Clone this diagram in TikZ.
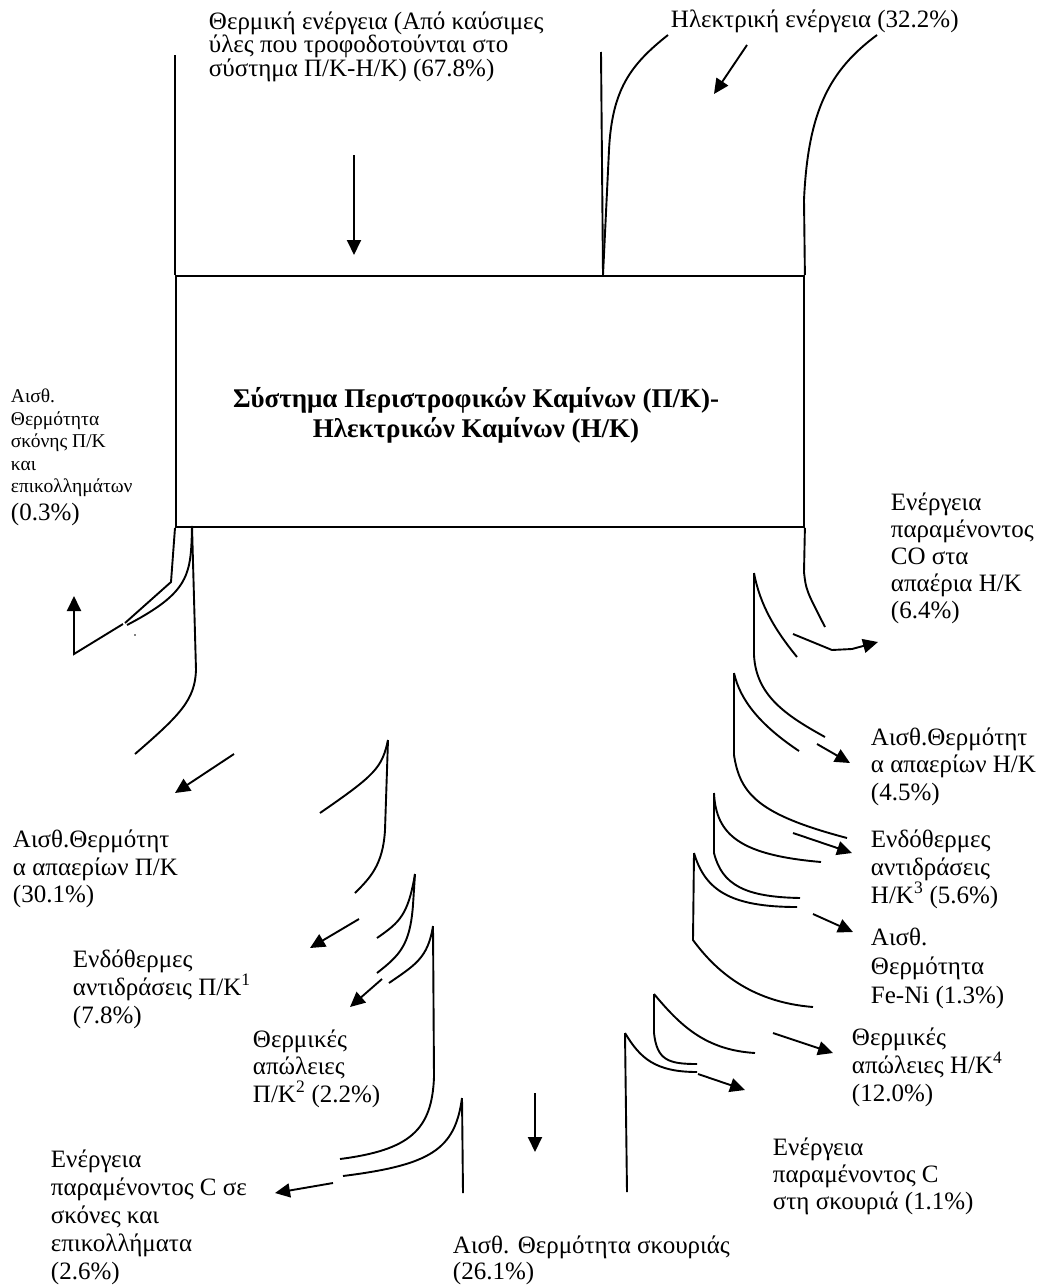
\documentclass[tikz,border=0pt]{standalone}
\usepackage{fontspec}
\setmainfont{Liberation Serif}
\usetikzlibrary{arrows.meta}
\begin{document}
\begin{tikzpicture}[x=1pt,y=-1pt,line width=1.9pt,
  arr/.style={-{Triangle[length=15pt,width=14pt]}},
  lab/.style={anchor=base west,inner sep=0pt,font=\fontsize{25}{28}\selectfont},
  slab/.style={anchor=base west,inner sep=0pt,font=\fontsize{19.5}{22}\selectfont},
  btxt/.style={anchor=base,inner sep=0pt,font=\fontsize{27}{30}\selectfont\bfseries}]
\useasboundingbox (0,0) rectangle (1040,1285);
% main box
\node[draw,line width=1.9pt,minimum width=628pt,minimum height=251pt,inner sep=0pt,anchor=north west] (box) at (175,275) {};
\node[btxt] (bt1) at (476,407) {Σύστημα Περιστροφικών Καμίνων (Π/Κ)-};
\node[btxt] (bt2) at (476,437) {Ηλεκτρικών Καμίνων (Η/Κ)};
% top inputs
\coordinate (tl) at (175,55);
\draw (box.north west) -- (tl);
\coordinate (ta1) at (354,155); \coordinate (ta2) at (354,255);
\draw[arr] (ta1) -- (ta2);
\coordinate (e1) at (601,52); \coordinate (e2) at (603,275);
\draw (e1) -- (e2);
\draw (e2) -- (609,150) .. controls (612,90) and (630,65) .. (668,35);
\draw (box.north east) -- (804,200) .. controls (808,110) and (830,70) .. (877,35);
\coordinate (ea1) at (747,45); \coordinate (ea2) at (714,94);
\draw[arr] (ea1) -- (ea2);
% left outputs
\draw (box.south west) -- (171,582) -- (125,623);
\coordinate (bl2) at (192,526);
\draw (bl2) .. controls (191,575) and (190,592) .. (127,625);
\coordinate (a03a) at (123,624); \coordinate (a03b) at (74,654); \coordinate (a03c) at (74,596);
\draw[arr] (a03a) -- (a03b) -- (a03c);
\fill (135,635) circle (0.8pt);
\draw (bl2) -- (196,670) .. controls (195,700) and (180,715) .. (135,754);
\coordinate (a30a) at (234,754); \coordinate (a30b) at (175,793);
\draw[arr] (a30a) -- (a30b);
% L3
\coordinate (t3) at (388,740);
\draw (t3) .. controls (382,768) and (375,775) .. (320,813);
\draw (t3) -- (385,830) .. controls (383,865) and (370,878) .. (355,893);
\coordinate (a78a) at (359,919); \coordinate (a78b) at (310,948);
\draw[arr] (a78a) -- (a78b);
% L4
\coordinate (t4) at (415,874);
\draw (t4) .. controls (408,915) and (400,922) .. (377,938);
\draw (t4) -- (413,905) .. controls (410,945) and (400,955) .. (377,973);
\coordinate (a22a) at (382,979); \coordinate (a22b) at (350,1007);
\draw[arr] (a22a) -- (a22b);
% L5
\coordinate (t5) at (433,926);
\draw (t5) .. controls (428,958) and (415,965) .. (389,983);
\draw (t5) -- (434,1077) .. controls (432,1130) and (410,1150) .. (340,1159);
% L6
\coordinate (t6) at (462,1098);
\draw (t6) -- (463,1193);
\draw (t6) .. controls (455,1150) and (430,1165) .. (343,1176);
\coordinate (a26a) at (333,1183); \coordinate (a26b) at (275,1193);
\draw[arr] (a26a) -- (a26b);
% slag arrow
\coordinate (sa1) at (535,1093); \coordinate (sa2) at (535,1152);
\draw[arr] (sa1) -- (sa2);
% right outputs
\draw (box.south east) -- (804,572) .. controls (806,590) .. (825,627);
\coordinate (aco1) at (793,634); \coordinate (aco2) at (832,650); \coordinate (aco3) at (852,649); \coordinate (aco4) at (878,642);
\draw[arr] (aco1) -- (aco2) -- (aco3) -- (aco4);
\coordinate (r1) at (754,573);
\draw (r1) .. controls (760,605) and (775,630) .. (797,657);
\draw (r1) -- (754,655) .. controls (756,695) and (785,715) .. (825,737);
\coordinate (a45a) at (817,744); \coordinate (a45b) at (850,763);
\draw[arr] (a45a) -- (a45b);
\coordinate (r2) at (734,673);
\draw (r2) .. controls (740,700) and (760,725) .. (799,751);
\draw (r2) -- (734,755) .. controls (740,795) and (760,815) .. (847,838);
\coordinate (a56a) at (793,833); \coordinate (a56b) at (852,853);
\draw[arr] (a56a) -- (a56b);
\coordinate (r3) at (714,793);
\draw (r3) .. controls (716,835) and (740,855) .. (821,862);
\draw (r3) -- (714,853) .. controls (722,885) and (745,897) .. (800,898);
\coordinate (a13a) at (813,914); \coordinate (a13b) at (853,932);
\draw[arr] (a13a) -- (a13b);
\coordinate (r4) at (694,853);
\draw (r4) .. controls (705,890) and (730,907) .. (797,907);
\draw (r4) -- (693,940) .. controls (715,970) and (750,1002) .. (813,1007);
\coordinate (a12a) at (773,1033); \coordinate (a12b) at (833,1053);
\draw[arr] (a12a) -- (a12b);
\coordinate (r5) at (654,994);
\draw (r5) .. controls (680,1025) and (705,1050) .. (755,1053);
\draw (r5) -- (654,1033) .. controls (657,1060) and (668,1064) .. (697,1064);
\coordinate (a11a) at (698,1074); \coordinate (a11b) at (745,1090);
\draw[arr] (a11a) -- (a11b);
\coordinate (r6) at (625,1033);
\draw (r6) .. controls (640,1058) and (655,1072) .. (697,1072);
\draw (r6) -- (627,1192);
% labels
\node[lab] (l1a) at (208,29) {Θερμική ενέργεια (Από καύσιμες};
\node[lab] (l1b) at (208,52.5) {ύλες που τροφοδοτούνται στο};
\node[lab] (l1c) at (208,76) {σύστημα Π/Κ-Η/Κ) (67.8\%)};
\node[lab] (l2) at (670,27) {Ηλεκτρική ενέργεια (32.2\%)};
\node[slab] (l3a) at (10,402.5) {Αισθ.};
\node[slab] (l3b) at (10,425) {Θερμότητα};
\node[slab] (l3c) at (10,447.5) {σκόνης Π/Κ};
\node[slab] (l3d) at (10,470) {και};
\node[slab] (l3e) at (10,492) {επικολλημάτων};
\node[lab] (l3f) at (10,520) {(0.3\%)};
\node[lab] (l4a) at (890,510) {Ενέργεια};
\node[lab] (l4b) at (890,537) {παραμένοντος};
\node[lab] (l4c) at (890,564) {CO στα};
\node[lab] (l4d) at (890,591) {απαέρια Η/Κ};
\node[lab] (l4e) at (890,618) {(6.4\%)};
\node[lab] (l5a) at (870,745) {Αισθ.Θερμότητ};
\node[lab] (l5b) at (870,772) {α απαερίων Η/Κ};
\node[lab] (l5c) at (870,800) {(4.5\%)};
\node[lab] (l6a) at (870,847) {Ενδόθερμες};
\node[lab] (l6b) at (870,875) {αντιδράσεις};
\node[lab] (l6c) at (870,903) {Η/Κ\textsuperscript{3} (5.6\%)};
\node[lab] (l7a) at (870,945) {Αισθ.};
\node[lab] (l7b) at (870,974) {Θερμότητα};
\node[lab] (l7c) at (870,1003) {Fe-Ni (1.3\%)};
\node[lab] (l8a) at (851,1045) {Θερμικές};
\node[lab] (l8b) at (851,1073) {απώλειες Η/Κ\textsuperscript{4}};
\node[lab] (l8c) at (851,1101) {(12.0\%)};
\node[lab] (l9a) at (772,1155) {Ενέργεια};
\node[lab] (l9b) at (772,1182) {παραμένοντος C};
\node[lab] (l9c) at (772,1209) {στη σκουριά (1.1\%)};
\node[lab] (l10a) at (452,1253) {Αισθ. Θερμότητα σκουριάς};
\node[lab] (l10b) at (452,1279) {(26.1\%)};
\node[lab] (l11a) at (12,847) {Αισθ.Θερμότητ};
\node[lab] (l11b) at (12,875) {α απαερίων Π/Κ};
\node[lab] (l11c) at (12,902) {(30.1\%)};
\node[lab] (l12a) at (72,967) {Ενδόθερμες};
\node[lab] (l12b) at (72,995) {αντιδράσεις Π/Κ\textsuperscript{1}};
\node[lab] (l12c) at (72,1023) {(7.8\%)};
\node[lab] (l13a) at (252,1047) {Θερμικές};
\node[lab] (l13b) at (252,1074) {απώλειες};
\node[lab] (l13c) at (252,1102) {Π/Κ\textsuperscript{2} (2.2\%)};
\node[lab] (l14a) at (50,1167) {Ενέργεια};
\node[lab] (l14b) at (50,1195) {παραμένοντος C σε};
\node[lab] (l14c) at (50,1223) {σκόνες και};
\node[lab] (l14d) at (50,1251) {επικολλήματα};
\node[lab] (l14e) at (50,1279) {(2.6\%)};
\end{tikzpicture}
\end{document}
